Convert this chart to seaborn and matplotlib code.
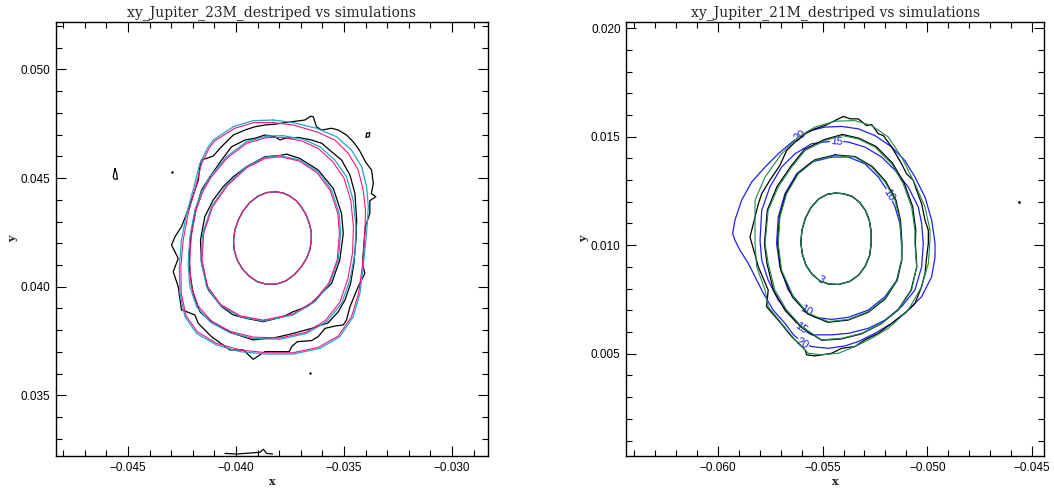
import numpy as np
import pandas as pd
import matplotlib
matplotlib.use("Agg")
import matplotlib.pyplot as plt
from matplotlib.ticker import MultipleLocator, FuncFormatter
import seaborn as sns

# ---- Panel 1: xy_Jupiter_23M_destriped vs simulations ----
# simulation A (cyan)
C1_X = [-38.15, -37.81, -37.50, -37.21, -36.96, -36.76, -36.61, -36.51, -36.51, -36.57, -36.73, -36.99, -37.31, -37.70,
        -38.12, -38.58, -39.01, -39.38, -39.71, -39.94, -40.08, -40.11, -40.05, -39.89, -39.66, -39.35, -38.97, -38.58]
C1_Y = [44.37, 44.31, 44.17, 43.96, 43.65, 43.33, 42.94, 42.53, 42.15, 41.72, 41.30, 40.89, 40.54, 40.26,
        40.12, 40.11, 40.23, 40.48, 40.83, 41.23, 41.69, 42.15, 42.61, 43.07, 43.50, 43.88, 44.17, 44.33]
C2_X = [-37.96, -37.04, -36.19, -35.57, -35.22, -35.15, -35.26, -35.65, -36.34, -37.35, -38.73, -39.81, -40.74, -41.36, -41.62, -41.54, -41.13, -40.43, -39.51, -38.66]
C2_Y = [46.03, 45.83, 45.29, 44.45, 43.37, 42.45, 41.23, 40.15, 39.31, 38.70, 38.42, 38.62, 39.16, 40.00, 41.23, 42.45, 43.68, 44.68, 45.52, 45.95]
C3_X = [-38.58, -37.81, -36.88, -36.11, -35.42, -34.88, -34.57, -34.44, -34.49, -34.72, -35.11, -35.80, -36.73, -37.96, -39.20, -40.28, -41.20, -41.82, -42.13, -42.21, -42.13, -41.90, -41.59, -41.20, -40.43, -39.51]
C3_Y = [46.93, 46.95, 46.78, 46.44, 45.83, 45.06, 43.99, 42.76, 41.53, 40.31, 39.23, 38.39, 37.85, 37.58, 37.62, 37.88, 38.39, 39.08, 40.00, 41.07, 42.30, 43.53, 44.37, 45.06, 45.98, 46.67]
C4_X = [-38.27, -37.35, -36.27, -35.34, -34.65, -34.18, -33.95, -33.87, -33.95, -34.11, -34.26, -34.57, -35.19, -36.11, -37.35, -38.58, -39.81, -40.90, -41.82, -42.36, -42.59, -42.62, -42.52, -42.28, -41.98, -41.67, -41.28, -41.05, -40.12, -39.20]
C4_Y = [47.67, 47.55, 47.29, 46.90, 46.29, 45.52, 44.60, 43.68, 42.45, 40.92, 39.69, 38.62, 37.70, 37.16, 36.90, 36.90, 37.01, 37.32, 37.85, 38.62, 39.69, 40.92, 42.15, 43.37, 44.45, 45.67, 46.44, 46.75, 47.36, 47.64]

# simulation B (magenta)
M1_X = C1_X
M1_Y = C1_Y
M2_X = [-37.96, -37.06, -36.24, -35.63, -35.28, -35.21, -35.31, -35.69, -36.37, -37.36, -38.73, -39.80, -40.71, -41.32, -41.57, -41.49, -41.09, -40.40, -39.49, -38.65]
M2_Y = [45.98, 45.78, 45.24, 44.42, 43.36, 42.45, 41.24, 40.18, 39.35, 38.74, 38.46, 38.66, 39.19, 40.02, 41.24, 42.45, 43.66, 44.65, 45.48, 45.90]
M3_X = [-38.58, -37.83, -36.93, -36.19, -35.52, -35.00, -34.68, -34.56, -34.60, -34.82, -35.19, -35.86, -36.76, -37.96, -39.18, -40.24, -41.14, -41.75, -42.06, -42.14, -42.07, -41.85, -41.55, -41.17, -40.41, -39.50]
M3_Y = [46.86, 46.87, 46.70, 46.36, 45.76, 45.00, 43.96, 42.76, 41.55, 40.35, 39.28, 38.44, 37.90, 37.64, 37.68, 37.93, 38.43, 39.11, 40.02, 41.07, 42.29, 43.50, 44.33, 45.01, 45.92, 46.60]
M4_X = [-38.27, -37.35, -36.27, -35.42, -34.80, -34.34, -34.11, -34.00, -34.03, -34.15, -34.32, -34.65, -35.26, -36.19, -37.35, -38.58, -39.81, -40.90, -41.79, -42.31, -42.53, -42.55, -42.44, -42.21, -41.90, -41.59, -41.20, -40.97, -40.05, -39.17]
M4_Y = [47.55, 47.44, 47.13, 46.75, 46.14, 45.37, 44.45, 43.53, 42.45, 40.92, 39.69, 38.62, 37.73, 37.21, 36.96, 36.96, 37.09, 37.39, 37.93, 38.67, 39.69, 40.92, 42.15, 43.37, 44.45, 45.67, 46.44, 46.72, 47.29, 47.55]

# measured (black) contours
B1_X = C1_X
B1_Y = C1_Y
B2_X = [-39.51, -38.66, -37.96, -37.65, -37.04, -36.19, -35.49, -35.11, -35.03, -35.19, -35.57, -36.11, -36.65, -37.35, -37.81, -38.73, -39.51, -40.12, -40.66, -41.28, -41.59, -41.64, -41.44, -41.05, -40.59, -40.12]
B2_Y = [45.52, 45.98, 46.04, 46.10, 45.90, 45.37, 44.52, 43.37, 42.45, 41.23, 40.15, 39.62, 39.11, 38.85, 38.62, 38.39, 38.54, 38.70, 39.08, 39.85, 41.07, 42.15, 43.22, 43.99, 44.60, 45.06]
B3_X = [-41.20, -40.66, -40.20, -39.58, -39.12, -38.66, -38.19, -37.96, -37.73, -37.11, -36.50, -36.03, -35.57, -35.11, -34.72, -34.49, -34.41, -34.44, -34.54, -34.69, -34.95, -35.26, -35.73, -36.50, -37.35, -38.12, -39.20, -40.12, -41.05, -41.67, -41.98, -42.13, -42.16, -42.05, -41.82, -41.59]
B3_Y = [45.06, 45.83, 46.44, 46.75, 46.83, 46.98, 46.90, 46.75, 46.83, 46.87, 46.75, 46.60, 46.21, 45.83, 45.14, 44.29, 43.07, 42.15, 41.07, 40.15, 39.39, 38.85, 38.34, 38.08, 37.85, 37.67, 37.55, 37.85, 38.31, 38.85, 39.69, 40.61, 41.53, 42.61, 43.68, 44.45]
B4_X = [-41.59, -41.05, -40.74, -40.12, -39.58, -39.12, -38.66, -38.19, -37.42, -36.81, -36.53, -36.42, -36.27, -36.03, -35.57, -35.26, -34.88, -34.57, -34.29, -33.98,
        -33.72, -33.64, -33.73, -33.52, -33.80, -33.80, -34.01, -34.07, -34.14, -34.03, -34.34, -34.72, -34.88, -35.03, -35.42, -35.88, -36.19, -36.50, -37.16, -37.42,
        -37.53, -38.66, -39.20, -39.66, -40.28, -41.13, -41.74, -41.90, -42.28, -42.52, -42.67, -42.90, -42.67, -42.98, -42.82, -42.52, -42.28, -42.05, -41.74, -41.67]
B4_Y = [45.83, 46.01, 46.37, 46.98, 47.21, 47.36, 47.44, 47.48, 47.59, 47.67, 47.85, 47.82, 47.36, 47.21, 47.29, 47.21, 46.98, 46.67, 46.29, 45.71,
        45.37, 44.75, 44.29, 44.14, 43.96, 43.37, 42.76, 41.99, 41.07, 40.61, 40.00, 39.08, 38.47, 38.24, 38.19, 38.08, 37.70, 37.52, 37.47, 37.24,
        37.01, 37.01, 36.66, 37.09, 37.09, 37.70, 38.31, 38.70, 38.85, 38.93, 40.00, 40.69, 41.30, 41.92, 42.30, 42.76, 43.37, 43.99, 44.91, 45.52]
# small measured islands and stray pixels
ISLE1_X = [-45.60, -45.68, -45.63, -45.49, -45.52]
ISLE1_Y = [45.44, 45.06, 44.95, 44.95, 45.21]
ISLE2_X = [-33.95, -33.80, -33.83, -33.98]
ISLE2_Y = [47.06, 47.09, 46.90, 46.87]
EDGE_X = [-40.51, -39.97, -38.89, -38.73, -38.58, -38.30]
EDGE_Y = [32.33, 32.30, 32.38, 32.52, 32.33, 32.30]
DOTS1_X = [-42.98, -36.57]
DOTS1_Y = [45.29, 36.01]

# ---- Panel 2: xy_Jupiter_21M_destriped vs simulations ----
# simulation (green)
G1_X = [-54.39, -54.00, -53.60, -53.25, -52.96, -52.77, -52.68, -52.68, -52.75, -52.96, -53.28, -53.71,
        -54.24, -54.71, -55.14, -55.51, -55.80, -55.97, -56.04, -55.99, -55.83, -55.56, -55.19, -54.79]
G1_Y = [12.40, 12.37, 12.25, 11.99, 11.61, 11.15, 10.61, 10.08, 9.54, 9.04, 8.62, 8.33,
        8.19, 8.21, 8.36, 8.67, 9.08, 9.59, 10.11, 10.69, 11.23, 11.73, 12.13, 12.34]
G2_X = [-54.41, -53.46, -52.66, -52.02, -51.54, -51.31, -51.23, -51.23, -51.46, -52.02, -52.82, -53.77, -54.73, -55.68, -56.40, -56.96, -57.12, -57.04, -56.72, -56.16, -55.37]
G2_Y = [14.13, 14.06, 13.60, 12.91, 12.07, 11.15, 10.08, 9.31, 8.39, 7.55, 6.94, 6.58, 6.48, 6.86, 7.63, 8.85, 10.08, 11.30, 12.37, 13.29, 13.90]
G3_X = [-54.09, -53.30, -52.50, -51.70, -51.15, -50.75, -50.59, -50.59, -50.51, -50.75, -51.39, -52.18, -53.14, -54.09, -55.05, -56.00, -56.72, -57.28, -57.60, -57.75, -57.60, -57.12, -56.48, -55.84, -54.89]
G3_Y = [15.05, 14.90, 14.52, 13.75, 12.83, 11.76, 10.69, 10.08, 9.00, 7.93, 7.01, 6.40, 5.94, 5.71, 5.64, 6.25, 7.01, 7.93, 9.16, 10.08, 11.61, 12.68, 13.60, 14.36, 14.82]
G4_X = [-54.41, -53.46, -52.66, -51.86, -51.23, -50.59, -50.11, -49.87, -49.87, -49.95, -50.27, -50.91, -51.86, -52.66, -53.46, -54.25, -55.05, -55.68, -56.32, -56.96, -57.60, -57.75, -58.15, -58.23, -58.23, -57.75, -56.96, -56.16, -55.37]
G4_Y = [15.71, 15.74, 15.51, 14.98, 14.06, 12.83, 11.76, 10.69, 10.23, 9.16, 8.09, 7.01, 6.17, 5.71, 5.33, 5.02, 4.95, 5.02, 5.64, 6.40, 7.17, 7.93, 9.00, 10.08, 12.07, 13.14, 14.21, 14.98, 15.44]

# measured (black)
K1_X = G1_X
K1_Y = G1_Y
K2_X = [-54.40, -53.44, -52.62, -51.98, -51.50, -51.28, -51.21, -51.22, -51.44, -52.00, -52.82, -53.78, -54.75, -55.71, -56.44, -57.00, -57.15, -57.06, -56.75, -56.18, -55.38]
K2_Y = [14.16, 14.08, 13.62, 12.93, 12.08, 11.15, 10.08, 9.30, 8.38, 7.53, 6.91, 6.55, 6.45, 6.83, 7.61, 8.85, 10.08, 11.31, 12.39, 13.31, 13.93]
K3_X = [-54.05, -53.28, -52.45, -51.66, -51.10, -50.70, -50.55, -50.57, -50.50, -50.78, -51.42, -52.22, -53.16, -54.12, -55.05, -56.02, -56.78, -57.35, -57.66, -57.78, -57.64, -57.18, -56.52, -55.88, -54.93]
K3_Y = [15.10, 14.93, 14.55, 13.78, 12.85, 11.78, 10.70, 10.08, 9.00, 7.92, 6.99, 6.37, 5.91, 5.68, 5.62, 6.22, 6.98, 7.92, 9.16, 10.08, 11.62, 12.70, 13.63, 14.40, 14.86]
K4_X = [-54.89, -54.41, -54.01, -53.68, -53.30, -52.90, -52.66, -52.34, -52.10, -51.70, -51.23, -50.99, -50.67, -50.51, -50.27, -50.11, -49.95, -49.95, -50.03, -50.11, -50.27, -50.59, -51.07,
        -51.70, -52.34, -52.98, -53.46, -54.09, -54.57, -55.37, -55.76, -55.84, -56.48, -57.12, -57.68, -57.60, -58.07, -58.47, -58.23, -58.07, -57.91, -57.52, -57.04, -56.72, -56.32, -55.84, -55.37]
K4_Y = [15.51, 15.74, 15.93, 15.82, 15.82, 15.51, 15.56, 15.13, 15.05, 14.52, 13.75, 13.29, 12.99, 12.53, 11.91, 11.15, 10.69, 10.08, 9.46, 8.70, 8.09, 7.32, 6.86,
        6.40, 5.94, 5.64, 5.33, 5.25, 5.02, 4.90, 4.95, 5.18, 5.79, 6.55, 7.17, 7.93, 9.00, 10.38, 11.30, 11.91, 12.37, 12.99, 13.68, 14.36, 14.75, 15.13, 15.36]
DOTS2_X = [-45.61]
DOTS2_Y = [11.99]

# second simulation (blue), levels 3, 10, 15, 20
U1_X = G1_X
U1_Y = G1_Y
U2_X = [-54.57, -53.77, -52.98, -52.34, -51.86, -51.54, -51.31, -51.23, -51.23, -51.46, -52.02, -52.82, -53.77, -54.57, -55.37, -55.81, -56.64, -57.04, -57.20, -57.12, -56.80, -56.24, -55.53]
U2_Y = [14.06, 14.06, 13.75, 13.14, 12.45, 11.76, 11.00, 10.08, 9.31, 8.39, 7.63, 7.01, 6.68, 6.58, 6.68, 6.97, 7.93, 9.00, 10.08, 11.30, 12.37, 13.29, 13.83]
U3_X = [-54.33, -53.77, -52.98, -52.18, -51.54, -50.91, -50.43, -50.27, -50.19, -50.27, -50.59, -51.23, -52.02, -52.82, -53.77, -54.57, -55.53, -56.04, -56.48, -57.12, -57.60, -57.91, -57.99, -57.91, -57.52, -56.96, -56.32, -55.53]
U3_Y = [14.82, 14.75, 14.52, 14.06, 13.45, 12.68, 11.76, 11.00, 10.08, 9.00, 7.93, 7.17, 6.55, 6.17, 5.94, 5.87, 5.87, 6.17, 6.71, 7.47, 8.39, 9.31, 10.23, 11.61, 12.68, 13.60, 14.21, 14.67]
U4_X = [-55.68, -54.89, -54.09, -53.30, -52.50, -51.70, -51.07, -50.59, -50.11, -49.79, -49.63, -49.63, -49.79, -50.27, -50.91, -51.70, -52.50, -53.30, -53.93,
        -54.73, -55.53, -55.91, -56.39, -56.80, -57.36, -57.83, -58.23, -58.55, -58.95, -59.19, -59.30, -59.19, -58.87, -58.39, -57.75, -57.12, -56.56, -56.08]
U4_Y = [15.25, 15.44, 15.47, 15.36, 15.05, 14.52, 13.90, 13.14, 12.22, 11.15, 10.08, 9.46, 8.55, 7.63, 7.01, 6.40, 5.94, 5.56, 5.36,
        5.25, 5.33, 5.48, 5.87, 6.40, 7.01, 7.78, 8.55, 9.16, 9.77, 10.23, 10.54, 11.15, 12.07, 12.91, 13.60, 14.21, 14.67, 15.05]

# contour annotations on the blue set
BLUE_LABELS = ["20", "15", "10", "3", "10", "15", "20"]
BLUE_LABEL_X = [-56.08, -54.33, -51.86, -55.10, -55.81, -56.04, -55.97]
BLUE_LABEL_Y = [15.05, 14.79, 12.30, 8.40, 6.97, 6.17, 5.45]
BLUE_LABEL_ROT = [35, -5, -60, -30, -30, -35, -30]

TITLES = ["xy_Jupiter_23M_destriped vs simulations", "xy_Jupiter_21M_destriped vs simulations"]

CYAN = "#22a3d2"
MAGENTA = "#ee1a7d"
GREEN = "#1f8a4e"
BLUE = "#2020f2"

SCALE = 1e-3


def rings_to_frame(rings, closed=True):
    """Long table of contour vertices, one 'ring' id per contour."""
    rows = []
    for i, (xs, ys) in enumerate(rings):
        xs, ys = list(xs), list(ys)
        if closed:
            xs.append(xs[0])
            ys.append(ys[0])
        for x, y in zip(xs, ys):
            rows.append({"x": x * SCALE, "y": y * SCALE, "ring": i})
    return pd.DataFrame(rows)


def draw_rings(ax, rings, color, closed=True, lw=0.9, z=2):
    df = rings_to_frame(rings, closed)
    sns.lineplot(data=df, x="x", y="y", units="ring", estimator=None, sort=False,
                 color=color, linewidth=lw, ax=ax, legend=False, zorder=z)


def style_axes(ax, xlim, ylim, title):
    ax.set_xlim(xlim)
    ax.set_ylim(ylim)
    ax.xaxis.set_major_locator(MultipleLocator(0.005))
    ax.xaxis.set_minor_locator(MultipleLocator(0.001))
    ax.yaxis.set_major_locator(MultipleLocator(0.005))
    ax.yaxis.set_minor_locator(MultipleLocator(0.001))
    fmt = FuncFormatter(lambda v, p: f"{v:.3f}".replace("-", "\u2212"))
    ax.xaxis.set_major_formatter(fmt)
    ax.yaxis.set_major_formatter(fmt)
    ax.tick_params(which="both", direction="in", bottom=True, top=True, left=True, right=True,
                   width=0.8, labelsize=8.5, colors="black")
    ax.tick_params(which="major", length=7, pad=4)
    ax.tick_params(which="minor", length=4)
    for s in ax.spines.values():
        s.set_visible(True)
        s.set_linewidth(1.0)
        s.set_color("black")
    ax.set_title(title, fontsize=10, family="DejaVu Serif", pad=4)
    ax.set_xlabel("x", fontsize=8, family="DejaVu Serif", fontweight="bold")
    ax.set_ylabel("y", fontsize=8, family="DejaVu Serif", fontweight="bold")
    ax.xaxis.set_label_coords(0.5, -0.047)
    ax.yaxis.set_label_coords(-0.088, 0.5)


def main():
    sns.set_style("ticks", {"xtick.direction": "in", "ytick.direction": "in"})
    plt.rcParams["font.family"] = ["Liberation Sans", "DejaVu Sans"]

    fig = plt.figure(figsize=(10.54, 4.88), dpi=100)
    ax1 = fig.add_axes([0.0531, 0.0656, 0.4099, 0.8893])
    ax2 = fig.add_axes([0.5942, 0.0656, 0.3966, 0.8893])

    # left panel
    draw_rings(ax1, [(B1_X, B1_Y), (B2_X, B2_Y), (B3_X, B3_Y), (B4_X, B4_Y),
                     (ISLE1_X, ISLE1_Y), (ISLE2_X, ISLE2_Y)], "black", z=2)
    draw_rings(ax1, [(EDGE_X, EDGE_Y)], "black", closed=False, z=2)
    sns.scatterplot(x=np.array(DOTS1_X) * SCALE, y=np.array(DOTS1_Y) * SCALE,
                    color="black", s=3, linewidth=0, ax=ax1, zorder=2)
    draw_rings(ax1, [(C1_X, C1_Y), (C2_X, C2_Y), (C3_X, C3_Y), (C4_X, C4_Y)], CYAN, z=3)
    draw_rings(ax1, [(M1_X, M1_Y), (M2_X, M2_Y), (M3_X, M3_Y), (M4_X, M4_Y)], MAGENTA, lw=0.8, z=4)
    style_axes(ax1, (-0.04833, -0.02833), (0.03221, 0.05218), TITLES[0])

    # right panel
    draw_rings(ax2, [(U1_X, U1_Y), (U2_X, U2_Y), (U3_X, U3_Y), (U4_X, U4_Y)], BLUE, z=2)
    for txt, lx, ly, rot in zip(BLUE_LABELS, BLUE_LABEL_X, BLUE_LABEL_Y, BLUE_LABEL_ROT):
        ax2.text(lx * SCALE, ly * SCALE, txt, color=BLUE, fontsize=8, rotation=rot,
                 ha="center", va="center", zorder=2.5,
                 bbox=dict(facecolor="white", edgecolor="none", pad=0.3))
    draw_rings(ax2, [(K1_X, K1_Y), (K2_X, K2_Y), (K3_X, K3_Y), (K4_X, K4_Y)], "black", z=3)
    sns.scatterplot(x=np.array(DOTS2_X) * SCALE, y=np.array(DOTS2_Y) * SCALE,
                    color="black", s=4, linewidth=0, ax=ax2, zorder=3)
    draw_rings(ax2, [(G1_X, G1_Y), (G2_X, G2_Y), (G3_X, G3_Y), (G4_X, G4_Y)], GREEN, lw=0.8, z=4)
    style_axes(ax2, (-0.06438, -0.04441), (0.00029, 0.02028), TITLES[1])

    fig.savefig("out.png", dpi=100)
    plt.close(fig)


if __name__ == "__main__":
    main()
